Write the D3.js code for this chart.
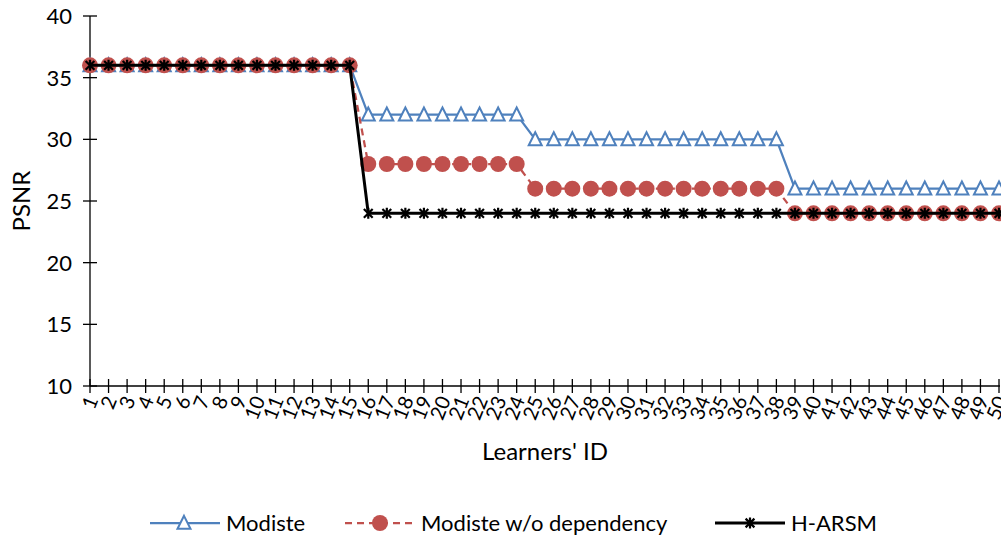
<!DOCTYPE html>
<html>
<head>
<meta charset="utf-8">
<script src="https://cdn.jsdelivr.net/npm/d3@7"></script>
<style>
  html, body { margin: 0; padding: 0; background: #fff; }
  svg { display: block; font-family: Lato, "Open Sans", sans-serif; }
</style>
</head>
<body>
<svg id="chart" width="1001" height="538"></svg>
<script>
// Learner IDs along the x axis
const learners = d3.range(1, 51);

// PSNR per learner for each method
const modiste = [
  36,36,36,36,36,36,36,36,36,36,36,36,36,36,36,
  32,32,32,32,32,32,32,32,32,
  30,30,30,30,30,30,30,30,30,30,30,30,30,30,
  26,26,26,26,26,26,26,26,26,26,26,26
];
const modisteNoDep = [
  36,36,36,36,36,36,36,36,36,36,36,36,36,36,36,
  28,28,28,28,28,28,28,28,28,
  26,26,26,26,26,26,26,26,26,26,26,26,26,26,
  24,24,24,24,24,24,24,24,24,24,24,24
];
const harsm = [
  36,36,36,36,36,36,36,36,36,36,36,36,36,36,36,
  24,24,24,24,24,24,24,24,24,24,24,24,24,24,24,24,24,24,24,24,
  24,24,24,24,24,24,24,24,24,24,24,24,24,24,24
];

const yTicks = [10, 15, 20, 25, 30, 35, 40];
const seriesNames = ["Modiste", "Modiste w/o dependency", "H-ARSM"];

const svg = d3.select("#chart");
const plotLeft = 90, plotRight = 999, plotTop = 16, plotBottom = 386;

const x = d3.scaleLinear().domain([1, 50]).range([plotLeft, plotRight]);
const y = d3.scaleLinear().domain([10, 40]).range([plotBottom, plotTop]);

// y axis with ticks crossing the line
const yAxis = svg.append("g").attr("transform", `translate(${plotLeft},0)`);
yAxis.append("line").attr("x1", 0).attr("x2", 0).attr("y1", y(40)).attr("y2", y(10))
  .attr("stroke", "#000").attr("stroke-width", 1.3);
yAxis.selectAll("line.tick").data(yTicks).join("line").attr("class", "tick")
  .attr("x1", -7).attr("x2", 7).attr("y1", d => y(d)).attr("y2", d => y(d))
  .attr("stroke", "#000").attr("stroke-width", 1.3);
yAxis.selectAll("text").data(yTicks).join("text")
  .attr("x", -18).attr("y", d => y(d)).attr("dy", "0.36em")
  .attr("text-anchor", "end").attr("font-size", 22).attr("fill", "#000")
  .text(d => d);

// x axis
const xAxis = svg.append("g").attr("transform", `translate(0,${plotBottom})`);
xAxis.append("line").attr("x1", plotLeft).attr("x2", plotRight + 1).attr("y1", 0).attr("y2", 0)
  .attr("stroke", "#000").attr("stroke-width", 1.3);
xAxis.selectAll("line.tick").data(learners).join("line").attr("class", "tick")
  .attr("x1", d => x(d)).attr("x2", d => x(d)).attr("y1", -7).attr("y2", 7)
  .attr("stroke", "#000").attr("stroke-width", 1.3);
xAxis.selectAll("text").data(learners).join("text")
  .attr("transform", d => `translate(${x(d) + 2},${11}) rotate(-68)`)
  .attr("text-anchor", "end").attr("dy", "0.36em")
  .attr("font-size", 20).attr("fill", "#000")
  .text(d => d);

// axis titles
svg.append("text").attr("x", 545).attr("y", 460).attr("text-anchor", "middle")
  .attr("font-size", 24).attr("fill", "#000").text("Learners' ID");
svg.append("text").attr("transform", `translate(30,201) rotate(-90)`)
  .attr("text-anchor", "middle").attr("font-size", 24).attr("fill", "#000").text("PSNR");

// marker shapes
const triPath = s => `M0,${-s * 0.55}L${s * 0.5},${s * 0.45}L${-s * 0.5},${s * 0.45}Z`;
const starPath = s => {
  const r = s / 2, d = r * 0.8;
  return `M${-d},${-d}L${d},${d}M${-d},${d}L${d},${-d}M0,${-r}L0,${r}`;
};

const line = d3.line().x((d, i) => x(learners[i])).y(d => y(d));

const plot = svg.append("g");

// Modiste
plot.append("path").datum(modiste).attr("d", line)
  .attr("fill", "none").attr("stroke", "#4F81BD").attr("stroke-width", 2.25);
plot.selectAll("path.tri").data(modiste).join("path").attr("class", "tri")
  .attr("transform", (d, i) => `translate(${x(learners[i])},${y(d)})`)
  .attr("d", triPath(13)).attr("fill", "#fff").attr("stroke", "#4F81BD").attr("stroke-width", 2);

// Modiste w/o dependency
plot.append("path").datum(modisteNoDep).attr("d", line)
  .attr("fill", "none").attr("stroke", "#C0504D").attr("stroke-width", 2.25)
  .attr("stroke-dasharray", "7,5");
plot.selectAll("circle.dot").data(modisteNoDep).join("circle").attr("class", "dot")
  .attr("cx", (d, i) => x(learners[i])).attr("cy", d => y(d)).attr("r", 8)
  .attr("fill", "#C0504D");

// H-ARSM
plot.append("path").datum(harsm).attr("d", line)
  .attr("fill", "none").attr("stroke", "#000").attr("stroke-width", 3);
plot.selectAll("path.star").data(harsm).join("path").attr("class", "star")
  .attr("transform", (d, i) => `translate(${x(learners[i])},${y(d)})`)
  .attr("d", starPath(11)).attr("fill", "none").attr("stroke", "#000").attr("stroke-width", 2.2);

// legend
const legend = svg.append("g").attr("transform", "translate(0,523)");
const legendItems = [
  { name: seriesNames[0], x0: 150, color: "#4F81BD", dash: null, w: 2.25 },
  { name: seriesNames[1], x0: 345, color: "#C0504D", dash: "7,5", w: 2.25 },
  { name: seriesNames[2], x0: 715, color: "#000", dash: null, w: 3 }
];
legendItems.forEach((it, k) => {
  const g = legend.append("g").attr("transform", `translate(${it.x0},0)`);
  g.append("line").attr("x1", 0).attr("x2", 70).attr("y1", 0).attr("y2", 0)
    .attr("stroke", it.color).attr("stroke-width", it.w)
    .attr("stroke-dasharray", it.dash);
  if (k === 0) {
    g.append("path").attr("transform", "translate(34,0)").attr("d", triPath(13))
      .attr("fill", "#fff").attr("stroke", it.color).attr("stroke-width", 2);
  } else if (k === 1) {
    g.append("circle").attr("cx", 35).attr("cy", 0).attr("r", 8).attr("fill", it.color);
  } else {
    g.append("path").attr("transform", "translate(35,0)").attr("d", starPath(11))
      .attr("fill", "none").attr("stroke", it.color).attr("stroke-width", 2.2);
  }
  g.append("text").attr("x", 76).attr("y", 0).attr("dy", "0.36em")
    .attr("font-size", 22).attr("fill", "#000").text(it.name);
});
</script>
</body>
</html>
